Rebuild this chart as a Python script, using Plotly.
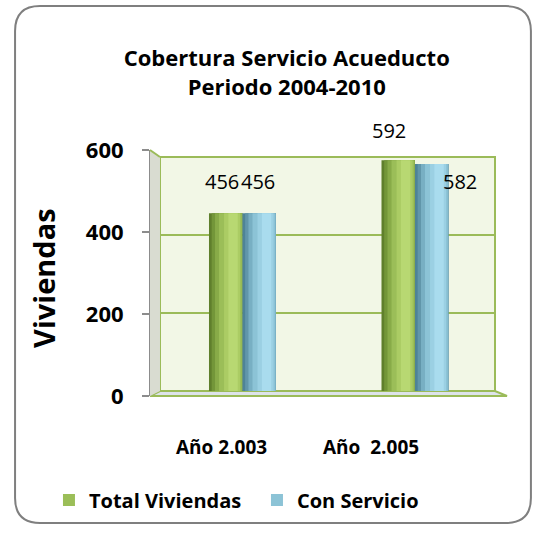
import plotly.graph_objects as go

# Data
categories = ["Año 2.003", "Año  2.005"]
total_viviendas = [456, 592]
con_servicio = [456, 582]
y_ticks = [0, 200, 400, 600]

FONT = "Open Sans"
GREEN_EDGE = "#9bbb59"

# cylinder shading: (start, width, colour) as fractions of one bar
green_layers = [(0.00, 1.00, "#5f7f2c"), (0.08, 0.92, "#739639"), (0.18, 0.82, "#88ab48"),
                (0.30, 0.68, "#9bbe58"), (0.45, 0.48, "#abcc64"), (0.58, 0.28, "#b8d872")]
blue_layers = [(0.00, 1.00, "#4e8397"), (0.08, 0.92, "#6196aa"), (0.18, 0.82, "#78afc3"),
               (0.30, 0.68, "#8cc3d6"), (0.45, 0.48, "#9bd0e3"), (0.58, 0.28, "#a9dcee")]
LEGEND_LAYER = 3

bar_w = 0.194
series = [
    ("Total Viviendas", total_viviendas, -bar_w, green_layers),
    ("Con Servicio", con_servicio, 0.0, blue_layers),
]

fig = go.Figure()
for name, vals, base_off, layers in series:
    for i, (start, frac, color) in enumerate(layers):
        fig.add_trace(go.Bar(
            x=categories, y=vals, name=name,
            width=bar_w * frac, offset=base_off + bar_w * start,
            marker=dict(color=color, line=dict(width=0)),
            showlegend=(i == LEGEND_LAYER), legendgroup=name,
        ))

# empty trace so the front-plane value axis exists
fig.add_trace(go.Scatter(x=[], y=[], xaxis="x", yaxis="y2", showlegend=False))

# data labels (3D-style placement of the original)
label_shift = [[(-20, 32), (-26, 30)], [(16, 32), (45, -17)]]
annotations = []
for s, (name, vals, _, _) in enumerate(series):
    for c, v in enumerate(vals):
        dx, dy = label_shift[s][c]
        annotations.append(dict(x=c, y=v, xref="x", yref="y", text=str(v), showarrow=False,
                                xshift=dx, yshift=dy, font=dict(family=FONT, size=20, color="black")))

# category labels
cat_shift = [-21, -44]
for c, cat in enumerate(categories):
    annotations.append(dict(x=c, y=-0.268, xref="x", yref="paper", text=cat, showarrow=False,
                            xshift=cat_shift[c], font=dict(family=FONT, size=19, color="black", weight="bold")))

annotations.append(dict(x=-0.297, y=0.48, xref="paper", yref="paper", text="Viviendas", textangle=-90,
                        xanchor="center", yanchor="middle", showarrow=False,
                        font=dict(family=FONT, size=29, color="black", weight="bold")))

# frame and pseudo-3D walls (paper coords: x 0->150px, 1->507px; y 0->396px, 1->150px)
x0, x1, y0, y1 = -0.378, 1.067, -0.516, 1.585
rx, ry = 0.070, 0.1016
frame = (f"M {x0+rx},{y1} L {x1-rx},{y1} Q {x1},{y1} {x1},{y1-ry} L {x1},{y0+ry} "
         f"Q {x1},{y0} {x1-rx},{y0} L {x0+rx},{y0} Q {x0},{y0} {x0},{y0+ry} "
         f"L {x0},{y1-ry} Q {x0},{y1} {x0+rx},{y1} Z")
shapes = [
    dict(type="path", path=frame, xref="paper", yref="paper", line=dict(color="#7f7f7f", width=2),
         fillcolor="white", layer="below"),
    # back wall
    dict(type="rect", xref="x domain", yref="y domain", x0=0, x1=1, y0=0, y1=1,
         fillcolor="#f2f7e6", line=dict(color=GREEN_EDGE, width=2), layer="below"),
    # floor
    dict(type="path", xref="paper", yref="paper",
         path="M 0.028,0.0203 L 0.9664,0.0203 L 1,0 L 0,0 Z",
         fillcolor="#dde3ea", line=dict(color=GREEN_EDGE, width=2), layer="below"),
    # side wall
    dict(type="path", xref="paper", yref="paper",
         path="M 0,1 L 0.028,0.9715 L 0.028,0.0203 L 0,0 Z",
         fillcolor="#d9dcd1", line=dict(width=0), layer="above"),
    dict(type="line", xref="paper", yref="paper", x0=0, y0=1, x1=0.028, y1=0.9715,
         line=dict(color=GREEN_EDGE, width=2), layer="above"),
]

fig.update_layout(
    width=536, height=533,
    margin=dict(l=150, r=29, t=150, b=137),
    paper_bgcolor="white", plot_bgcolor="rgba(0,0,0,0)",
    barmode="overlay",
    title=dict(text="Cobertura Servicio Acueducto<br>Periodo 2004-2010", x=0.535, xanchor="center",
               y=1 - 66 / 533, yanchor="top",
               font=dict(family=FONT, size=22, color="black", weight="bold")),
    xaxis=dict(domain=[0.028, 0.9664], range=[-0.478, 1.464], showticklabels=False,
               showgrid=False, zeroline=False, showline=False, ticks=""),
    yaxis=dict(domain=[0.0203, 0.9715], range=[0, 600], tickvals=y_ticks, showticklabels=False,
               showgrid=True, gridcolor=GREEN_EDGE, gridwidth=2, zeroline=False, ticks=""),
    yaxis2=dict(domain=[0, 1], range=[0, 600], anchor="free", position=0, side="left",
                tickvals=y_ticks, ticks="outside", ticklen=7, tickwidth=2, tickcolor="#8c8c8c",
                showline=True, linecolor="#8c8c8c", linewidth=2, showgrid=False, zeroline=False,
                ticklabelstandoff=14,
                tickfont=dict(family=FONT, size=22, color="black", weight="bold")),
    legend=dict(orientation="h", x=-0.283, y=-0.423, xanchor="left", yanchor="middle",
                font=dict(family=FONT, size=20, color="black", weight="bold"),
                entrywidth=163, traceorder="normal"),
    annotations=annotations,
    shapes=shapes,
)

fig.write_html("out.html", config={"displayModeBar": False},
               post_script="document.body.style.margin='0';")
